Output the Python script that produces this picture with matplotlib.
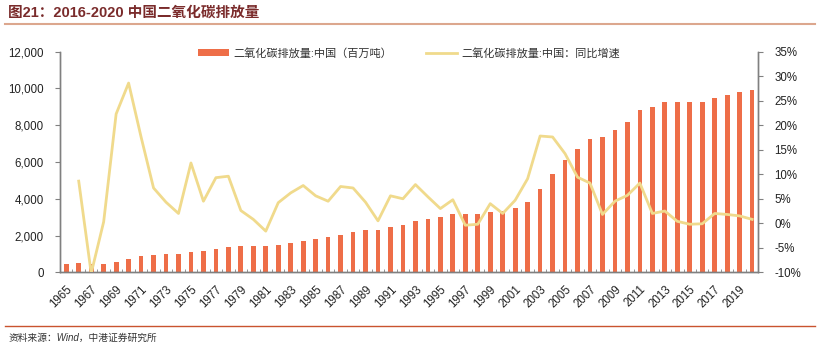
import numpy as np
import matplotlib
matplotlib.use("Agg")
import matplotlib.pyplot as plt
from matplotlib.ticker import FuncFormatter, FixedLocator

plt.rcParams['font.family'] = ['Liberation Sans', 'Noto Sans CJK SC', 'DejaVu Sans']

years = list(range(1965, 2021))

# 二氧化碳排放量:中国（百万吨）
emissions = [450, 520, 460, 450, 580, 720, 885, 940, 980, 995,
             1120, 1175, 1285, 1395, 1430, 1450, 1430, 1500, 1595, 1700,
             1810, 1900, 2045, 2190, 2300, 2300, 2445, 2570, 2770, 2915,
             3010, 3170, 3155, 3155, 3280, 3335, 3500, 3825, 4515, 5350,
             6110, 6690, 7250, 7380, 7740, 8160, 8830, 9010, 9250, 9280,
             9280, 9280, 9465, 9665, 9810, 9900]

# 同比增速 (%), 1965 has no value
growth = [np.nan, 8.6, -10.2, 0.3, 22.3, 28.6, 17.6, 7.2, 4.3, 2.0,
          12.3, 4.5, 9.3, 9.6, 2.6, 0.8, -1.6, 4.2, 6.2, 7.7,
          5.6, 4.5, 7.5, 7.2, 4.3, 0.5, 5.6, 5.0, 7.9, 5.4,
          3.0, 4.8, -0.4, -0.2, 4.0, 2.0, 4.7, 9.1, 17.8, 17.6,
          14.2, 9.4, 8.2, 1.8, 4.5, 5.7, 8.2, 2.0, 2.5, 0.4,
          -0.2, -0.1, 2.0, 1.8, 1.5, 0.8]

bar_label = '二氧化碳排放量:中国（百万吨）'
line_label = '二氧化碳排放量:中国：同比增速'

bar_color = '#EE6E48'
line_color = '#F0DA8C'
axis_color = '#808080'
text_color = '#222222'

fig = plt.figure(figsize=(8.2, 3.48), dpi=100)
ax = fig.add_axes([0.0732, 0.2175, 0.8516, 0.634])
ax2 = ax.twinx()

x = np.arange(len(years))
bars = ax.bar(x, emissions, width=0.38, color=bar_color, zorder=2, label=bar_label)
line, = ax2.plot(x, growth, color=line_color, lw=2.0, zorder=3, label=line_label)

ax.set_xlim(-0.5, len(years) - 0.5)
ax.set_ylim(0, 12000)
ax.set_yticks(range(0, 12001, 2000))
ax.yaxis.set_major_formatter(FuncFormatter(lambda v, p: f'{int(v):,}'))
ax2.set_ylim(-10, 35)
ax2.set_yticks(range(-10, 36, 5))
ax2.yaxis.set_major_formatter(FuncFormatter(lambda v, p: f'{int(v)}%'))

ax.set_xticks(x[::2])
ax.set_xticklabels([str(y) for y in years[::2]], rotation=45, ha='right',
                   rotation_mode='anchor', fontsize=8.3, color=text_color)
ax.xaxis.set_minor_locator(FixedLocator(x[:-1] + 0.5))
ax.tick_params(axis='x', which='major', length=0, pad=8)
ax.tick_params(axis='x', which='minor', direction='in', length=2.5, color=axis_color)
ax.tick_params(axis='y', length=3.5, color=axis_color, labelsize=8.3, labelcolor=text_color, pad=8)
ax2.tick_params(axis='y', length=3.5, color=axis_color, labelsize=8.3, labelcolor=text_color, pad=8)

for a in (ax, ax2):
    a.spines['top'].set_visible(False)
    for s in ('left', 'right', 'bottom'):
        a.spines[s].set_color(axis_color)
        a.spines[s].set_linewidth(1.0)

ax.legend([bars, line], [bar_label, line_label], loc='center', bbox_to_anchor=(0.5, 0.994),
          ncol=2, frameon=False, fontsize=8, handlelength=2.8, handletextpad=0.4,
          columnspacing=3.0, labelcolor='#333333')

# title, rules and source
fig.text(0.010, 0.965, '图21：2016-2020 中国二氧化碳排放量', fontsize=10.5, fontweight='bold',
         color='#7A2B2B', ha='left', va='center')
fig.add_artist(plt.Line2D([0.006, 0.994], [0.931, 0.931], color='#DCA78E', lw=1.5))
fig.add_artist(plt.Line2D([0.006, 0.994], [0.063, 0.063], color='#C9532F', lw=1.0))
fig.text(0.010, 0.028, '资料来源：Wind，中港证券研究所', fontsize=7, style='italic',
         color='#333333', ha='left', va='center')

fig.savefig('out.png', dpi=100)
